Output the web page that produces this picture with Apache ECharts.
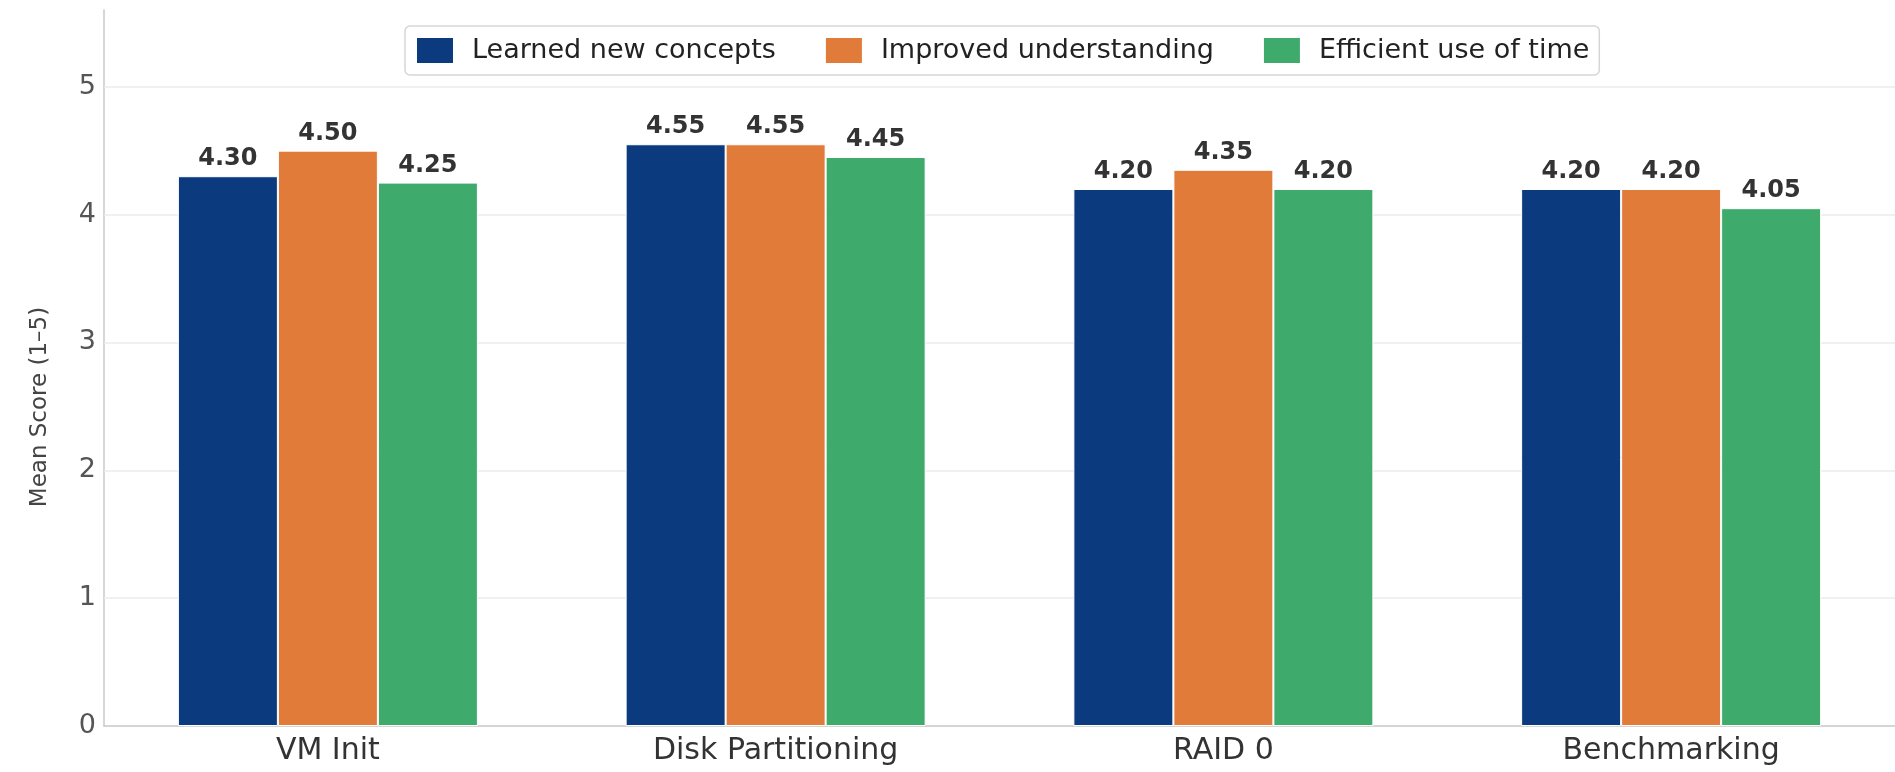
<!DOCTYPE html>
<html>
<head>
<meta charset="utf-8">
<script src="https://cdn.jsdelivr.net/npm/echarts@6/dist/echarts.min.js"></script>
<style>
  html, body { margin: 0; padding: 0; background: #fff; }
  #chart { width: 1895px; height: 772px; }
</style>
</head>
<body>
<div id="chart"></div>
<script>
// data
const categories = ['VM Init', 'Disk Partitioning', 'RAID 0', 'Benchmarking']
const seriesNames = ['Learned new concepts', 'Improved understanding', 'Efficient use of time']
const learnedNew = [4.30, 4.55, 4.20, 4.20]
const improvedUnderstanding = [4.50, 4.55, 4.35, 4.20]
const efficientTime = [4.25, 4.45, 4.20, 4.05]
const yTicks = [1, 2, 3, 4, 5]

const colors = ['#0b3a7f', '#e07b3a', '#3eaa6b']
const FONT = 'DejaVu Sans'

const chart = echarts.init(document.getElementById('chart'))

const barSeries = (name, data, color, idx) => {
  const s = {
    name,
    type: 'bar',
    data,
    barWidth: 100,
    barGap: '0%',
    z: 3,
    itemStyle: { color, borderColor: '#fff', borderWidth: 1 },
    label: {
      show: true,
      position: 'top',
      distance: 5,
      fontFamily: FONT,
      fontSize: 24,
      fontWeight: 'bold',
      color: '#333',
      formatter: p => p.value.toFixed(2)
    }
  }
  // gridlines behind the bars
  if (idx === 0) {
    s.markLine = {
      silent: true,
      symbol: 'none',
      z: 1,
      label: { show: false },
      lineStyle: { color: '#ebebeb', width: 1.5, type: 'solid' },
      data: yTicks.map(v => ({ yAxis: v }))
    }
  }
  return s
}

const option = {
  backgroundColor: '#fff',
  animation: false,
  textStyle: { fontFamily: FONT },
  grid: { left: 104, right: 0, top: 10, bottom: 46 },
  legend: {
    top: 26,
    left: 405,
    icon: 'rect',
    itemWidth: 38,
    itemHeight: 27,
    itemGap: 48,
    padding: [10, 10],
    borderColor: '#d6d6d6',
    borderWidth: 1.5,
    borderRadius: 5,
    backgroundColor: '#fff',
    textStyle: { fontFamily: FONT, fontSize: 27, color: '#222', padding: [0, 0, 0, 13] },
    data: seriesNames
  },
  xAxis: {
    type: 'category',
    data: categories,
    axisTick: { show: false },
    axisLine: { lineStyle: { color: '#c8c8c8', width: 1.5 } },
    axisLabel: { fontFamily: FONT, fontSize: 30, color: '#333', margin: 10 }
  },
  yAxis: {
    type: 'value',
    min: 0,
    max: 5.6,
    interval: 1,
    name: 'Mean Score (1–5)',
    nameLocation: 'middle',
    nameGap: 52,
    nameTextStyle: { fontFamily: FONT, fontSize: 23, color: '#444', padding: [0, 78, 0, 0] },
    axisLine: { show: true, lineStyle: { color: '#c8c8c8', width: 1.5 } },
    axisTick: { show: false },
    splitLine: { show: false },
    axisLabel: {
      fontFamily: FONT,
      fontSize: 27,
      color: '#555',
      margin: 8,
      formatter: v => (Number.isInteger(v) ? String(v) : '')
    }
  },
  series: [
    barSeries(seriesNames[0], learnedNew, colors[0], 0),
    barSeries(seriesNames[1], improvedUnderstanding, colors[1], 1),
    barSeries(seriesNames[2], efficientTime, colors[2], 2)
  ]
}

chart.setOption(option)
</script>
</body>
</html>
